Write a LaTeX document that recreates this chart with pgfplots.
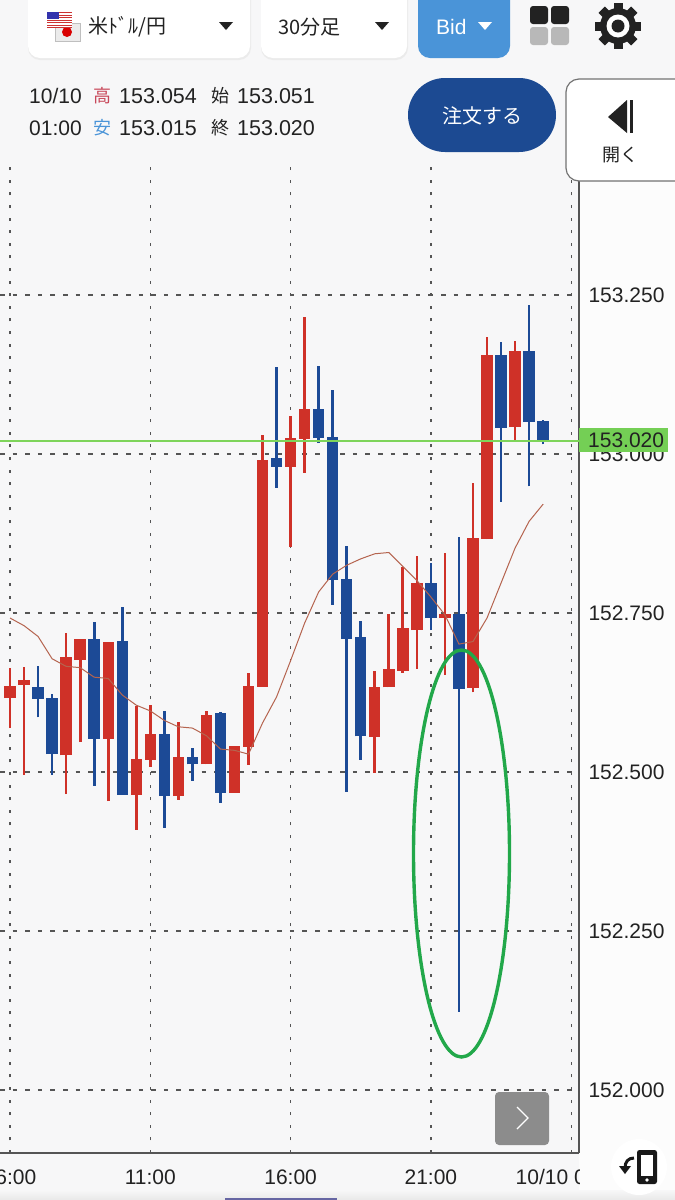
\documentclass[border=0pt]{standalone}
\usepackage{fontspec}
\usepackage{pgfplots}
\usepackage{pgfplotstable}
\pgfplotsset{compat=1.18}
\setmainfont{Liberation Sans}
\newfontfamily\cjk{Noto Sans CJK JP}

\definecolor{pagebg}{HTML}{F7F7F8}
\definecolor{upred}{HTML}{CF3128}
\definecolor{downblue}{HTML}{1C4A96}
\definecolor{gridc}{HTML}{555555}
\definecolor{axisc}{HTML}{555555}
\definecolor{mac}{HTML}{B5644F}
\definecolor{nowgreen}{HTML}{7ED45A}
\definecolor{labgreen}{HTML}{74CF55}
\definecolor{ringgreen}{HTML}{22A84A}
\definecolor{ink}{HTML}{222222}
\definecolor{bidblue}{HTML}{4A94D8}
\definecolor{orderblue}{HTML}{1C4A92}
\definecolor{highred}{HTML}{C8485A}

% 30 minute candles, x = candle number (06:00 = 0)
\pgfplotstableread{
x o h l c
0 152.616 152.664 152.569 152.635
1 152.637 152.665 152.496 152.645
4 152.526 152.718 152.465 152.680
5 152.676 152.709 152.547 152.709
7 152.552 152.705 152.454 152.705
9 152.464 152.603 152.409 152.520
10 152.519 152.606 152.508 152.560
12 152.462 152.579 152.456 152.523
14 152.512 152.596 152.512 152.590
16 152.467 152.541 152.467 152.541
17 152.540 152.656 152.511 152.635
18 152.634 153.030 152.634 152.991
20 152.980 153.060 152.854 153.025
21 153.024 153.216 152.970 153.070
26 152.555 152.659 152.499 152.634
27 152.633 152.748 152.633 152.662
28 152.659 152.823 152.656 152.726
29 152.723 152.840 152.662 152.797
31 152.742 152.845 152.653 152.749
33 152.632 152.954 152.625 152.868
34 152.866 153.184 152.866 153.155
36 153.042 153.177 153.022 153.162
}\updata
\pgfplotstableread{
x o h l c
2 152.634 152.666 152.586 152.615
3 152.617 152.622 152.496 152.528
6 152.709 152.736 152.478 152.552
8 152.706 152.760 152.464 152.464
11 152.559 152.596 152.412 152.462
13 152.524 152.538 152.486 152.512
15 152.592 152.594 152.452 152.467
19 152.993 153.137 152.947 152.980
22 153.070 153.138 153.017 153.025
23 153.027 153.101 152.763 152.801
24 152.803 152.856 152.469 152.709
25 152.712 152.737 152.519 152.556
30 152.797 152.828 152.723 152.742
32 152.749 152.869 152.123 152.631
35 153.155 153.176 152.925 153.041
37 153.162 153.234 152.949 153.050
38 153.051 153.054 153.015 153.020
}\downdata
\pgfplotstableread{
x y
0 152.742
1 152.730
2 152.713
3 152.678
4 152.666
5 152.664
6 152.649
7 152.647
8 152.621
9 152.605
10 152.596
11 152.581
12 152.571
13 152.569
14 152.557
15 152.536
16 152.534
17 152.528
18 152.577
19 152.618
20 152.675
21 152.734
22 152.783
23 152.811
24 152.825
25 152.835
26 152.843
27 152.845
28 152.823
29 152.801
30 152.775
31 152.747
32 152.701
33 152.705
34 152.742
35 152.797
36 152.852
37 152.894
38 152.921
}\madata

% table, colour, column of body bottom, column of body top
\newcommand{\candles}[4]{%
  \addplot[draw=#2, line width=2.7pt, forget plot,
    quiver={u=0, v=\thisrow{h}-\thisrow{l}}]
    table[x=x, y=l] {#1};
  \addplot[draw=#2, line width=11.4pt, forget plot,
    quiver={u=0, v=\thisrow{#4}-\thisrow{#3}}]
    table[x=x, y=#3] {#1};
}
\newcommand{\sz}[1]{\fontsize{#1}{#1}\selectfont}

\begin{document}
\begin{tikzpicture}[x=1pt,y=-1pt]
\path[use as bounding box] (0,0) rectangle (675,1200);
\fill[pagebg] (0,0) rectangle (675,1200);
\fill[white!60!pagebg] (579,182) rectangle (675,1200);
\shade[top color=pagebg, bottom color=black!9] (0,1190) rectangle (675,1200);

\begin{axis}[
  at={(0pt,-1153pt)}, anchor=south west, scale only axis,
  width=579pt, height=993pt,
  xmin=-0.713, xmax=40.556, ymin=151.901, ymax=153.462,
  axis x line=bottom, axis y line=right,
  axis line style={-, draw=axisc, line width=1.3pt},
  major tick length=0pt,
  xtick={0,10,20,30,40},
  xticklabels={06:00,11:00,16:00,21:00,10/10 02:00},
  ytick={152,152.25,152.5,152.75,153,153.25},
  scaled y ticks=false,
  /pgf/number format/assume math mode=true,
  yticklabel style={/pgf/number format/fixed, /pgf/number format/fixed zerofill,
    /pgf/number format/precision=3, font=\sz{21}, text=ink, anchor=west, xshift=6pt},
  xticklabel style={font=\sz{21}, text=ink, yshift=-13pt},
  grid=major,
  x grid style={draw=gridc, line width=1.3pt, dash pattern=on 3pt off 9.6pt},
  y grid style={draw=gridc, line width=1.3pt, dash pattern=on 4.5pt off 8.1pt},
]
\candles{\updata}{upred}{o}{c}
\candles{\downdata}{downblue}{c}{o}
\addplot[mac, line width=1pt, no marks, forget plot] table[x=x, y=y] {\madata};
\addplot[nowgreen, line width=1.6pt, no marks, forget plot] coordinates {(-0.713,153.020) (40.556,153.020)};
\end{axis}

% right edge: cut the last time label and mark the current price
\fill[white!60!pagebg] (580,1156) rectangle (675,1190);
\fill[labgreen] (579,428) rectangle (668,452);
\node[anchor=west, inner sep=0pt, text=ink, font=\sz{21}] at (588,440.5) {153.020};

% circled spike
\draw[ringgreen, line width=3.4pt] (461.5,853.5) ellipse [x radius=48, y radius=203.5];

% next button
\fill[black!45, rounded corners=4pt] (495,1092) rectangle (549,1145);
\draw[white, line width=1.3pt] (517,1107) -- (528,1118) -- (517,1129);

% rotate button
\fill[white] (639,1167) circle (28);
\fill[black!90, rounded corners=2.5pt] (637,1150) rectangle (657,1184);
\fill[white] (641,1155) rectangle (653,1176);
\fill[white] (647,1180) circle (1.8);
\draw[black!90, line width=3pt] (634,1158) .. controls (628,1158) and (625,1162) .. (625,1168);
\fill[black!90] (619,1166) -- (631,1166) -- (625,1174) -- cycle;

% page indicator
\fill[blue!40!black!60] (225,1198) rectangle (337,1200);

% top bar
\fill[black!8, rounded corners=12pt] (28,-20) rectangle (251,60);
\fill[white, rounded corners=12pt] (28,-20) rectangle (250,58);
\fill[black!8, rounded corners=12pt] (261,-20) rectangle (408,60);
\fill[white, rounded corners=12pt] (261,-20) rectangle (407,58);
\fill[bidblue, rounded corners=12pt] (418,-20) rectangle (510,58);

% flags
\fill[black!8] (55,23) rectangle (80,41);
\draw[black!25, line width=.7pt] (55,23) rectangle (80,41);
\fill[red!85!black] (67,32) circle (5);
\fill[white] (47,12) rectangle (72,28);
\foreach \s in {12,14.5,...,27}{\fill[red!75!black!80] (47,\s) rectangle (72,\s+1.3);}
\fill[blue!60!black!80] (47,12) rectangle (59,19);

\node[anchor=west, inner sep=0pt, text=ink, font=\cjk\sz{20}] at (88,27) {米ﾄﾞﾙ/円};
\fill[ink] (219,22) -- (233,22) -- (226,30) -- cycle;
\node[anchor=west, inner sep=0pt, text=ink, font=\cjk\sz{20}] at (278,27) {30分足};
\fill[ink] (375,22) -- (389,22) -- (382,30) -- cycle;
\node[anchor=west, inner sep=0pt, text=white, font=\sz{21}] at (436,27) {Bid};
\fill[white] (478,22) -- (492,22) -- (485,30) -- cycle;

% layout icon
\fill[ink, rounded corners=3pt] (530,6) rectangle (548,24);
\fill[ink, rounded corners=3pt] (551,6) rectangle (569,24);
\fill[black!28, rounded corners=3pt] (530,27) rectangle (548,45);
\fill[black!28, rounded corners=3pt] (551,27) rectangle (569,45);

% settings icon
\fill[ink] (618,26) circle (18);
\foreach \a in {0,45,...,315}{
  \fill[ink, rotate around={\a:(618,26)}] (613.5,3) rectangle (622.5,12);
}
\fill[white] (618,26) circle (11.5);
\fill[ink] (618,26) circle (6.5);

% price info
\node[anchor=west, inner sep=0pt, text=ink, font=\sz{21}] at (29,96) {10/10};
\node[anchor=west, inner sep=0pt, text=highred, font=\cjk\sz{18}] at (93,96) {高};
\node[anchor=west, inner sep=0pt, text=ink, font=\sz{21.5}] at (119,96) {153.054};
\node[anchor=west, inner sep=0pt, text=ink, font=\cjk\sz{18}] at (211,96) {始};
\node[anchor=west, inner sep=0pt, text=ink, font=\sz{21.5}] at (237,96) {153.051};
\node[anchor=west, inner sep=0pt, text=ink, font=\sz{21}] at (29,128) {01:00};
\node[anchor=west, inner sep=0pt, text=bidblue, font=\cjk\sz{18}] at (93,128) {安};
\node[anchor=west, inner sep=0pt, text=ink, font=\sz{21.5}] at (119,128) {153.015};
\node[anchor=west, inner sep=0pt, text=ink, font=\cjk\sz{18}] at (211,128) {終};
\node[anchor=west, inner sep=0pt, text=ink, font=\sz{21.5}] at (237,128) {153.020};

% order button
\fill[orderblue, rounded corners=37pt] (408,78) rectangle (556,152);
\node[text=white, inner sep=0pt, font=\cjk\sz{20}] at (482,116) {注文する};

% open panel
\filldraw[fill=white, draw=black!55, line width=1.2pt, rounded corners=13pt] (566,79) rectangle (700,181);
\fill[ink] (608,117) -- (627,100) -- (627,133) -- cycle;
\fill[ink] (630,100) rectangle (632.5,133);
\node[text=ink, inner sep=0pt, font=\cjk\sz{18}] at (620,155) {開く};
\end{tikzpicture}
\end{document}
